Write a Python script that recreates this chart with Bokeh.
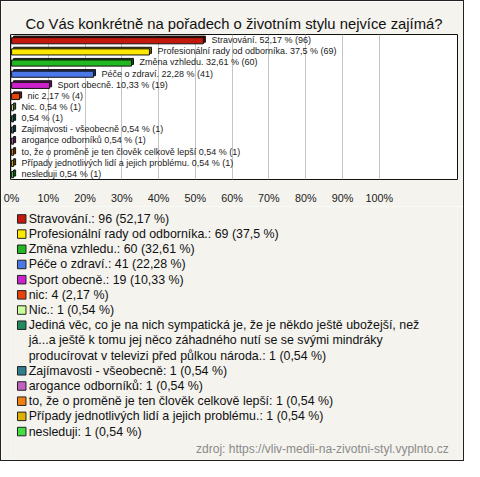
from bokeh.plotting import figure
from bokeh.models import Range1d, FactorRange, FixedTicker, PrintfTickFormatter, ColumnDataSource
from bokeh.layouts import column
from bokeh.transform import dodge
from bokeh.core.properties import value
from bokeh.embed import file_html
from bokeh.resources import INLINE

title = "Co Vás konkrétně na pořadech o životním stylu nejvíce zajímá?"
legend_names = [
    "Stravování.",
    "Profesionální rady od odborníka.",
    "Změna vzhledu.",
    "Péče o zdraví.",
    "Sport obecně.",
    "nic",
    "Nic.",
    "Jediná věc, co je na nich sympatická je, že je někdo ještě ubožejší, než\n"
    "já...a ještě k tomu jej něco záhadného nutí se se svými mindráky\n"
    "producírovat v televizi před půlkou národa.",
    "Zajímavosti - všeobecně",
    "arogance odborníků",
    "to, že o proměně je ten člověk celkově lepší",
    "Případy jednotlivých lidí a jejich problému.",
    "nesleduji",
]
bar_names = [
    "Stravování.", "Profesionální rady od odborníka.", "Změna vzhledu.", "Péče o zdraví.",
    "Sport obecně.", "nic", "Nic.", "", "Zajímavosti - všeobecně", "arogance odborníků",
    "to, že o proměně je ten člověk celkově lepší",
    "Případy jednotlivých lidí a jejich problému.", "nesleduji",
]
counts = [96, 69, 60, 41, 19, 4, 1, 1, 1, 1, 1, 1, 1]
percents = [52.17, 37.5, 32.61, 22.28, 10.33, 2.17, 0.54, 0.54, 0.54, 0.54, 0.54, 0.54, 0.54]
colors = ["#c4180c", "#ffe800", "#22b822", "#4a78e8", "#cc22cc", "#e8420c", "#ccff99",
          "#1f8a5e", "#2f7f8f", "#c060c0", "#f08010", "#e0b000", "#44dd44"]
x_ticks = [0, 10, 20, 30, 40, 50, 60, 70, 80, 90, 100]
source_text = "zdroj: https://vliv-medii-na-zivotni-styl.vyplnto.cz"

BG = "#f4f3ee"
FONT = "Liberation Sans"


def fmt(v):
    return f"{v:g}".replace(".", ",")


def darker(h, f=0.45):
    r, g, b = int(h[1:3], 16), int(h[3:5], 16), int(h[5:7], 16)
    return "#%02x%02x%02x" % (int(r * f), int(g * f), int(b * f))


bar_labels = [((n + " ") if n else "") + f"{fmt(p)} % ({c})" for n, p, c in zip(bar_names, percents, counts)]
src = ColumnDataSource(dict(
    cat=legend_names, pct=percents, color=colors, dark=[darker(c) for c in colors],
    right_back=[p + 0.55 for p in percents], left_back=[0.55] * len(percents), label=bar_labels,
))

W = 462
p1 = figure(width=W, height=205, output_backend="svg", toolbar_location=None,
            x_range=Range1d(-0.3, 121.3), y_range=FactorRange(factors=list(reversed(legend_names))),
            y_axis_location=None, min_border_left=9, min_border_right=6, min_border_top=33,
            min_border_bottom=22, title=title)
p1.background_fill_color = "white"
p1.border_fill_color = BG
p1.outline_line_color = "#111111"
p1.outline_line_width = 1
p1.title.align = "center"
p1.title.text_font = FONT
p1.title.text_font_size = "14.8px"
p1.title.text_font_style = "normal"
p1.title.text_color = "#111111"
p1.title.standoff = 6

p1.hbar(y=dodge("cat", 0.08, range=p1.y_range), left="left_back", right="right_back", height=0.55,
        fill_color="dark", line_color="#111111", line_width=1, source=src)
p1.hbar(y=dodge("cat", -0.06, range=p1.y_range), left=0, right="pct", height=0.55,
        fill_color="color", line_color="#111111", line_width=1, source=src)
p1.text(x="pct", y="cat", text="label", source=src, x_offset=8, text_baseline="middle",
        text_font=value(FONT), text_font_size="9px", text_color="#222222")

p1.xgrid.ticker = FixedTicker(ticks=x_ticks)
p1.xgrid.grid_line_color = "#c4c4c4"
p1.ygrid.grid_line_color = None
p1.xaxis.ticker = FixedTicker(ticks=x_ticks)
p1.xaxis.formatter = PrintfTickFormatter(format="%d%%")
p1.xaxis.axis_line_color = None
p1.xaxis.major_tick_line_color = None
p1.xaxis.minor_tick_line_color = None
p1.xaxis.major_label_standoff = 6
p1.xaxis.major_label_text_font = FONT
p1.xaxis.major_label_text_font_size = "10.8px"
p1.xaxis.major_label_text_color = "#222222"

# Legend figure
H2 = 254
UNIT = 15.19
TOP = 12.4
line_text, line_y, sq_y, sq_color = [], [], [], []
row = 0
for name, c, p, col in zip(legend_names, counts, percents, colors):
    full = f"{name}: {c} ({fmt(p)} %)"
    sq_y.append(row)
    sq_color.append(col)
    for ln in full.split("\n"):
        line_text.append(ln)
        line_y.append(row)
        row += 1

p2 = figure(width=W, height=H2, output_backend="svg", toolbar_location=None,
            x_range=Range1d(0, W), y_range=Range1d(start=(H2 - TOP) / UNIT, end=-TOP / UNIT),
            x_axis_location=None, y_axis_location=None, min_border=0,
            min_border_left=0, min_border_right=0, min_border_top=0, min_border_bottom=0)
p2.background_fill_color = BG
p2.border_fill_color = BG
p2.outline_line_color = None
p2.xgrid.visible = False
p2.ygrid.visible = False
p2.scatter(x=[11.6] * len(sq_y), y=sq_y, marker="square", size=8.5, fill_color=sq_color,
           line_color="#222222", line_width=1)
p2.text(x=[18.8] * len(line_y), y=line_y, text=line_text, text_baseline="middle",
        text_font=value(FONT), text_font_size="12.4px", text_color="#111111")
p2.text(x=[453], y=[row + 0.14], text=[source_text], text_align="right", text_baseline="middle",
        text_font=value(FONT), text_font_size="12px", text_color="#8a8a8a")

layout = column(p1, p2, spacing=0, styles={"border": "1px solid #222222"})
open("out.html", "w").write(file_html(layout, INLINE))
